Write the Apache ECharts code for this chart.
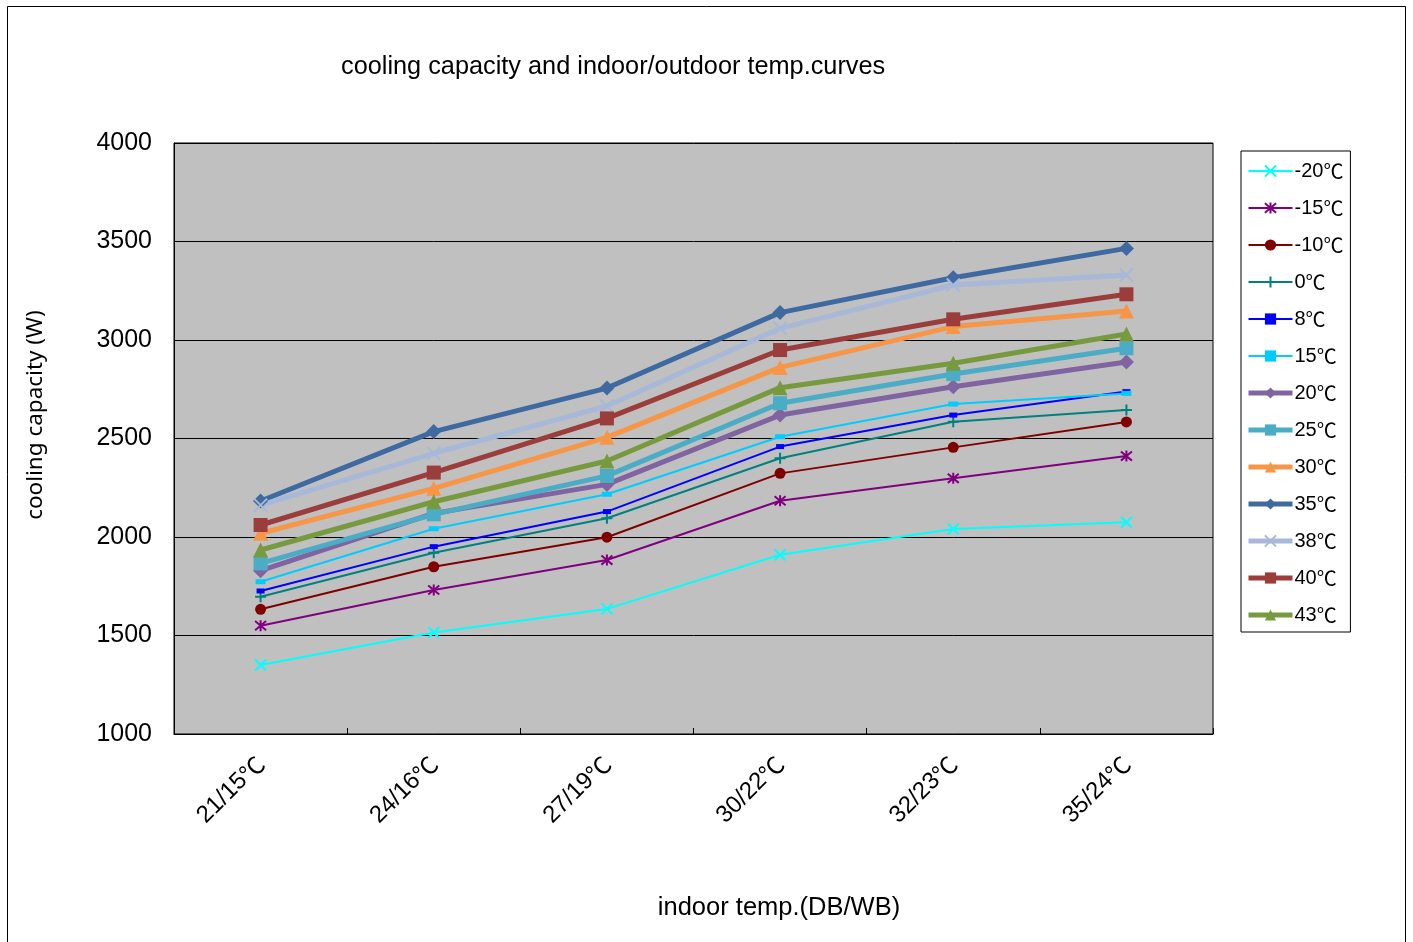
<!DOCTYPE html>
<html><head><meta charset="utf-8">
<script src="https://cdn.jsdelivr.net/npm/echarts@6/dist/echarts.min.js"></script>
<style>html,body{margin:0;padding:0;background:#fff}#c{width:1413px;height:942px}</style>
</head><body><div id="c"></div>
<script>
const categories = ['21/15℃','24/16℃','27/19℃','30/22℃','32/23℃','35/24℃'];
const yTicks = [1000,1500,2000,2500,3000,3500,4000];
const sM20 = [1350,1515,1635,1910,2041,2075];
const sM15 = [1550,1731,1883,2184,2298,2411];
const sM10 = [1633,1849,1999,2323,2455,2584];
const s0  = [1697,1920,2095,2400,2585,2645];
const s8  = [1726,1951,2129,2459,2619,2738];
const s15 = [1773,2042,2217,2509,2675,2729];
const s20 = [1829,2120,2267,2619,2763,2888];
const s25 = [1866,2115,2310,2679,2827,2958];
const s30 = [2019,2247,2506,2861,3068,3147];
const s35 = [2183,2535,2756,3139,3316,3465];
const s38 = [2162,2425,2665,3059,3279,3330];
const s40 = [2061,2327,2602,2949,3105,3232];
const s43 = [1934,2179,2386,2758,2882,3030];
const names = ['-20℃','-15℃','-10℃','0℃','8℃','15℃','20℃','25℃','30℃','35℃','38℃','40℃','43℃'];
const dataSets = [sM20,sM15,sM10,s0,s8,s15,s20,s25,s30,s35,s38,s40,s43];

const X = 'path://M0,0 L10,10 M10,0 L0,10';
const AST = 'path://M0,0 L10,10 M10,0 L0,10 M5,-1 L5,11';
const PLUS = 'path://M5,0 L5,10 M0,5 L10,5';
const styles = [
  {c:'#00FFFF', w:2, sym:X, sz:11, stroke:true},
  {c:'#800080', w:2, sym:AST, sz:11, stroke:true},
  {c:'#800000', w:2, sym:'circle', sz:11},
  {c:'#008080', w:2, sym:PLUS, sz:11, stroke:true},
  {c:'#0000FF', w:2, sym:'rect', sz:[8,5]},
  {c:'#00CCFF', w:2, sym:'rect', sz:[10,5]},
  {c:'#8064A2', w:5, sym:'diamond', sz:15},
  {c:'#4BACC6', w:5, sym:'rect', sz:14},
  {c:'#F79646', w:5, sym:'triangle', sz:15},
  {c:'#3F6AA1', w:5, sym:'diamond', sz:15},
  {c:'#A7B8D9', w:5, sym:X, sz:13, stroke:true},
  {c:'#9B3D3A', w:5, sym:'rect', sz:14},
  {c:'#789A3E', w:5, sym:'triangle', sz:15}
];
const series = names.map((n,i)=>{
  const s = styles[i];
  return {
    name:n, type:'line', data:dataSets[i],
    symbol:s.sym, symbolSize:s.sz, showSymbol:true,
    lineStyle:{color:s.c, width:s.w},
    itemStyle: s.stroke ? {color:s.c, borderColor:s.c, borderWidth:2} : {color:s.c, borderWidth:0},
    emphasis:{disabled:true},
    animation:false
  };
});
const font = '"Liberation Sans", Arial, sans-serif';
const cjk = '"Noto Sans CJK SC", sans-serif';
function splitC(t){ return t.endsWith('℃') ? '{a|'+t.slice(0,-1)+'}{c|℃}' : '{a|'+t+'}'; }
const chart = echarts.init(document.getElementById('c'));
chart.setOption({
  backgroundColor:'#fff',
  animation:false,
  title:{text:'cooling capacity and indoor/outdoor temp.curves', left:336, top:50,
    textStyle:{fontFamily:font, fontSize:25.3, fontWeight:'normal', color:'#000'}},
  grid:{left:174, top:143, right:200, bottom:208, show:true, backgroundColor:'#C0C0C0', borderColor:'#000', borderWidth:1},
  legend:{
    orient:'vertical', left:1241, top:151,
    data:names.map((n,i)=>({name:n, lineStyle:{width:styles[i].w, color:styles[i].c}})),
    padding:[10,7,7,5], itemGap:17, itemWidth:44, itemHeight:14,
    borderColor:'#000', borderWidth:1, backgroundColor:'#fff',
    formatter: n => splitC(n),
    textStyle:{fontFamily:font, fontSize:20, color:'#000', lineHeight:20, padding:[0,0,0,-3],
      rich:{a:{fontFamily:font, fontSize:20, color:'#000', lineHeight:20}, c:{fontFamily:cjk, fontSize:20, color:'#000', lineHeight:20}}}
  },
  xAxis:{
    type:'category', data:categories, boundaryGap:true,
    axisLine:{lineStyle:{color:'#000', width:1}},
    axisTick:{show:true, inside:true, length:6, lineStyle:{color:'#000'}},
    axisLabel:{rotate:45, margin:26, fontFamily:font, fontSize:24, color:'#000',
      formatter: v => splitC(v),
      rich:{a:{fontFamily:font, fontSize:24, color:'#000'}, c:{fontFamily:cjk, fontSize:24, color:'#000'}}},
    splitLine:{show:false}
  },
  yAxis:{
    type:'value', min:yTicks[0], max:yTicks[yTicks.length-1], interval:500,
    axisLine:{show:true, lineStyle:{color:'#000', width:1}},
    axisTick:{show:false},
    axisLabel:{margin:22, fontFamily:font, fontSize:25, color:'#000', formatter: v => String(v)},
    splitLine:{show:true, lineStyle:{color:'#000', width:1}}
  },
  graphic:[
    {type:'rect', shape:{x:7.5, y:6.5, width:1398, height:960}, style:{fill:'none', stroke:'#000', lineWidth:1}, z:-1, silent:true},
    {type:'text', x:779, y:908, style:{text:'indoor temp.(DB/WB)', textAlign:'center', textVerticalAlign:'middle', font:'25.5px '+font, fill:'#000'}},
    {type:'text', x:36, y:415, rotation:Math.PI/2, style:{text:'cooling capacity (W)', textAlign:'center', textVerticalAlign:'middle', font:'22.5px "Noto Sans", sans-serif', fill:'#000'}}
  ],
  series:series
});
</script></body></html>
